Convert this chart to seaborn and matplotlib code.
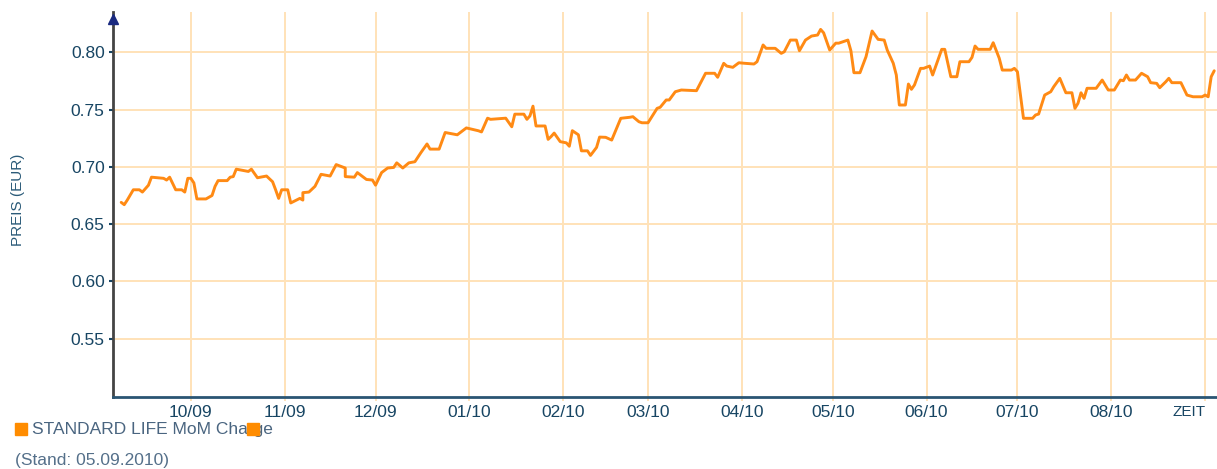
import matplotlib
matplotlib.use("Agg")
import matplotlib.pyplot as plt
import matplotlib.dates as mdates
from matplotlib.patches import Rectangle
import seaborn as sns
import pandas as pd

# ---------------- data ----------------
dates = [
    "2009-09-08", "2009-09-09", "2009-09-10", "2009-09-12", "2009-09-14", "2009-09-15",
    "2009-09-17", "2009-09-18", "2009-09-22", "2009-09-23", "2009-09-24", "2009-09-26",
    "2009-09-28", "2009-09-29", "2009-09-30", "2009-10-01", "2009-10-02", "2009-10-03",
    "2009-10-06", "2009-10-08", "2009-10-09", "2009-10-10", "2009-10-13", "2009-10-14",
    "2009-10-15", "2009-10-16", "2009-10-20", "2009-10-21", "2009-10-23", "2009-10-26",
    "2009-10-28", "2009-10-29", "2009-10-30", "2009-10-31", "2009-11-02", "2009-11-03",
    "2009-11-06", "2009-11-07", "2009-11-07", "2009-11-09", "2009-11-11", "2009-11-13",
    "2009-11-16", "2009-11-18", "2009-11-21", "2009-11-21", "2009-11-24", "2009-11-25",
    "2009-11-27", "2009-11-28", "2009-11-30", "2009-12-01", "2009-12-03", "2009-12-05",
    "2009-12-07", "2009-12-08", "2009-12-10", "2009-12-12", "2009-12-14", "2009-12-16",
    "2009-12-18", "2009-12-19", "2009-12-22", "2009-12-24", "2009-12-28", "2009-12-31",
    "2010-01-04", "2010-01-05", "2010-01-07", "2010-01-08", "2010-01-13", "2010-01-15",
    "2010-01-16", "2010-01-19", "2010-01-20", "2010-01-21", "2010-01-22", "2010-01-23",
    "2010-01-26", "2010-01-27", "2010-01-28", "2010-01-29", "2010-01-31", "2010-02-02",
    "2010-02-03", "2010-02-04", "2010-02-06", "2010-02-07", "2010-02-09", "2010-02-10",
    "2010-02-12", "2010-02-13", "2010-02-15", "2010-02-17", "2010-02-20", "2010-02-23",
    "2010-02-24", "2010-02-26", "2010-02-27", "2010-03-01", "2010-03-04", "2010-03-05",
    "2010-03-07", "2010-03-08", "2010-03-10", "2010-03-12", "2010-03-17", "2010-03-20",
    "2010-03-23", "2010-03-24", "2010-03-26", "2010-03-27", "2010-03-29", "2010-03-31",
    "2010-04-02", "2010-04-05", "2010-04-06", "2010-04-08", "2010-04-09", "2010-04-12",
    "2010-04-14", "2010-04-15", "2010-04-17", "2010-04-19", "2010-04-20", "2010-04-22",
    "2010-04-24", "2010-04-26", "2010-04-27", "2010-04-28", "2010-04-30", "2010-05-02",
    "2010-05-03", "2010-05-06", "2010-05-07", "2010-05-08", "2010-05-10", "2010-05-12",
    "2010-05-14", "2010-05-16", "2010-05-18", "2010-05-19", "2010-05-21", "2010-05-22",
    "2010-05-23", "2010-05-25", "2010-05-26", "2010-05-27", "2010-05-28", "2010-05-30",
    "2010-05-31", "2010-06-02", "2010-06-03", "2010-06-06", "2010-06-07", "2010-06-09",
    "2010-06-11", "2010-06-12", "2010-06-15", "2010-06-16", "2010-06-17", "2010-06-18",
    "2010-06-22", "2010-06-23", "2010-06-25", "2010-06-26", "2010-06-29", "2010-06-30",
    "2010-07-01", "2010-07-03", "2010-07-06", "2010-07-07", "2010-07-08", "2010-07-10",
    "2010-07-12", "2010-07-13", "2010-07-15", "2010-07-17", "2010-07-19", "2010-07-20",
    "2010-07-21", "2010-07-22", "2010-07-23", "2010-07-24", "2010-07-27", "2010-07-29",
    "2010-07-31", "2010-08-02", "2010-08-04", "2010-08-05", "2010-08-06", "2010-08-07",
    "2010-08-09", "2010-08-11", "2010-08-13", "2010-08-14", "2010-08-16", "2010-08-17",
    "2010-08-19", "2010-08-20", "2010-08-21", "2010-08-24", "2010-08-26", "2010-08-28",
    "2010-08-31", "2010-09-01", "2010-09-02", "2010-09-03", "2010-09-04",
]
prices = [
    0.669, 0.667, 0.671, 0.680, 0.680, 0.678,
    0.684, 0.691, 0.690, 0.6885, 0.691, 0.680,
    0.680, 0.678, 0.690, 0.690, 0.686, 0.672,
    0.672, 0.675, 0.683, 0.688, 0.688, 0.691,
    0.6915, 0.698, 0.696, 0.698, 0.6905, 0.692,
    0.687, 0.680, 0.6725, 0.680, 0.680, 0.6685,
    0.6725, 0.671, 0.6775, 0.678, 0.683, 0.6935,
    0.692, 0.702, 0.699, 0.6915, 0.691, 0.695,
    0.691, 0.689, 0.6885, 0.684, 0.695, 0.699,
    0.6995, 0.7035, 0.699, 0.7035, 0.7045, 0.7125,
    0.720, 0.7155, 0.7155, 0.730, 0.728, 0.734,
    0.7315, 0.7305, 0.7425, 0.7415, 0.7425, 0.735,
    0.746, 0.746, 0.7415, 0.7445, 0.753, 0.7357,
    0.7357, 0.724, 0.7265, 0.7295, 0.722, 0.721,
    0.718, 0.7316, 0.728, 0.714, 0.714, 0.710,
    0.717, 0.726, 0.7258, 0.7234, 0.7424, 0.7433,
    0.7438, 0.7394, 0.7385, 0.7385, 0.7511, 0.752,
    0.7584, 0.7584, 0.7656, 0.7671, 0.7665, 0.7817,
    0.7817, 0.7782, 0.7904, 0.788, 0.7869, 0.7909,
    0.7904, 0.7898, 0.7918, 0.8064, 0.8035, 0.8035,
    0.7991, 0.8005, 0.8107, 0.8107, 0.8014, 0.8107,
    0.8142, 0.8151, 0.820, 0.817, 0.802, 0.808,
    0.808, 0.8107, 0.8014, 0.7822, 0.7822, 0.7962,
    0.8186, 0.8113, 0.8107, 0.802, 0.7904, 0.7802,
    0.754, 0.754, 0.7723, 0.7677, 0.7715, 0.786,
    0.786, 0.788, 0.7802, 0.8026, 0.8026, 0.7787,
    0.7787, 0.7918, 0.7918, 0.7956, 0.8055, 0.8026,
    0.8026, 0.8084, 0.7948, 0.7845, 0.7845, 0.786,
    0.7831, 0.7424, 0.7424, 0.7453, 0.7461, 0.7627,
    0.7656, 0.770, 0.7773, 0.7647, 0.7647, 0.7511,
    0.7555, 0.7647, 0.7598, 0.7686, 0.7686, 0.7758,
    0.7671, 0.7671, 0.7758, 0.7752, 0.7802, 0.7758,
    0.7758, 0.7817, 0.7787, 0.7735, 0.7729, 0.7691,
    0.7743, 0.7773, 0.7735, 0.7735, 0.7627, 0.7612,
    0.7612, 0.7627, 0.7612, 0.7787, 0.7839,
]
x_tick_dates = ["2009-10-01", "2009-11-01", "2009-12-01", "2010-01-01", "2010-02-01",
                "2010-03-01", "2010-04-01", "2010-05-01", "2010-06-01", "2010-07-01",
                "2010-08-01", "2010-09-01"]
x_tick_labels = ["10/09", "11/09", "12/09", "01/10", "02/10", "03/10", "04/10",
                 "05/10", "06/10", "07/10", "08/10", "ZEIT"]
y_ticks = [0.55, 0.60, 0.65, 0.70, 0.75, 0.80]
y_tick_labels = ["0.55", "0.60", "0.65", "0.70", "0.75", "0.80"]
series_name = "STANDARD LIFE MoM Charge"
stand_text = "(Stand: 05.09.2010)"
y_label = "PREIS (EUR)"

# ---------------- style ----------------
sns.set_theme(style="white")
plt.rcParams["font.family"] = ["Liberation Sans", "DejaVu Sans"]

LINE = "#FF8A14"
GRID = "#FFE2B8"
TXT = "#174563"
W, H = 1217, 469

df = pd.DataFrame({"date": pd.to_datetime(dates), "price": prices})

fig = plt.figure(figsize=(W / 100, H / 100), dpi=100)
ax = fig.add_axes([113 / W, (H - 397) / H, (W - 113) / W, (397 - 12) / H])

sns.lineplot(data=df, x="date", y="price", estimator=None, sort=False,
             color=LINE, linewidth=2.1, ax=ax, zorder=3)

ax.set_xlim(pd.Timestamp("2009-09-05 07:00"), pd.Timestamp("2010-09-04 22:00"))
ax.set_ylim(0.4991, 0.8352)

ax.set_xticks(pd.to_datetime(x_tick_dates))
ax.set_xticklabels(x_tick_labels)
ax.set_yticks(y_ticks)
ax.set_yticklabels(y_tick_labels)

ax.grid(True, color=GRID, linewidth=1.4, zorder=0)
ax.set_axisbelow(True)
ax.set_xlabel("")
ax.set_ylabel("")

for s in ["top", "right"]:
    ax.spines[s].set_visible(False)
ax.spines["left"].set_color("#444444")
ax.spines["left"].set_linewidth(2)
ax.spines["bottom"].set_color("#2A5573")
ax.spines["bottom"].set_linewidth(2)

ax.tick_params(axis="y", left=True, length=3, width=1.5, color=TXT, pad=3,
               labelsize=12.5, labelcolor=TXT)
ax.tick_params(axis="x", bottom=True, length=3, width=1.4, color=GRID, pad=3,
               labelsize=12.5, labelcolor=TXT)
xl = ax.get_xticklabels()
xl[-1].set_horizontalalignment("right")
xl[-1].set_fontsize(11)

# arrow on top of y axis
ax.plot([0], [1 - 7 / 385], marker="^", markersize=7, color="#1A2A80",
        transform=ax.transAxes, clip_on=False, zorder=5)

# y label
fig.text(18 / W, 1 - 200 / H, y_label, rotation=90, ha="center", va="center",
         fontsize=11, color="#2A5A78")

# legend
fig.patches.append(Rectangle((15 / W, 1 - 435 / H), 12 / W, 12 / H,
                             transform=fig.transFigure, color="#FF8C00", zorder=5))
fig.text(32 / W, 1 - 429 / H, series_name, ha="left", va="center",
         fontsize=12.5, color="#4A6580", zorder=3)
fig.patches.append(Rectangle((247 / W, 1 - 435 / H), 12 / W, 12 / H,
                             transform=fig.transFigure, color="#FF8C00", zorder=5))
fig.text(15 / W, 1 - 460 / H, stand_text, ha="left", va="center",
         fontsize=12.5, color="#55708A")

fig.savefig("out.png", dpi=100)
